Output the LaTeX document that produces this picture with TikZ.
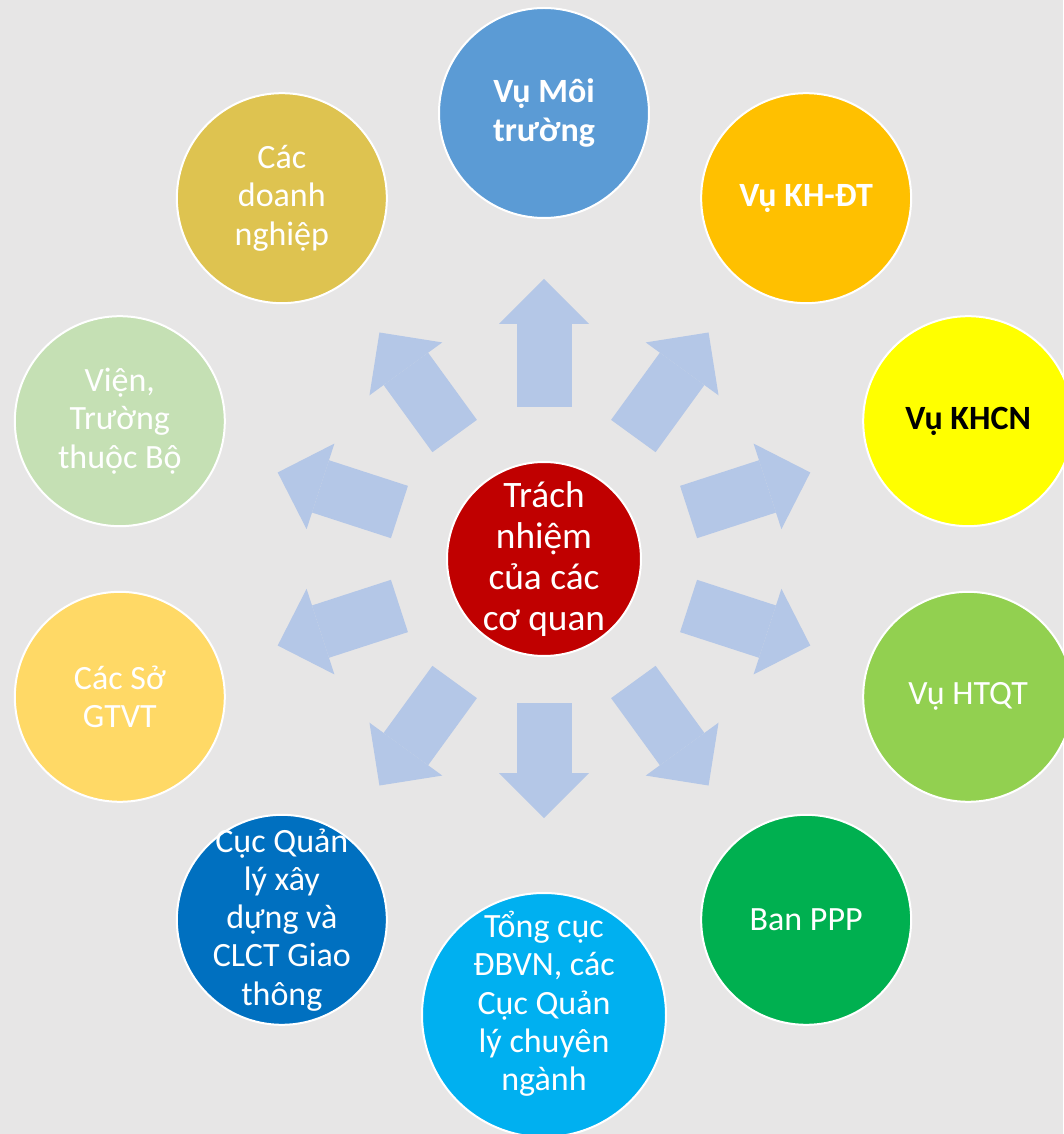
\documentclass[tikz,border=0pt]{standalone}
\usepackage{fontspec}
\setmainfont{Carlito}
\usetikzlibrary{arrows.meta, positioning}
\definecolor{backgray}{HTML}{E7E6E6}
\definecolor{spokeblue}{HTML}{B4C7E7}
\definecolor{hubred}{HTML}{C00000}
\definecolor{vublue}{HTML}{5B9BD5}
\definecolor{vuorange}{HTML}{FFC000}
\definecolor{vuyellow}{HTML}{FFFF00}
\definecolor{vugreen}{HTML}{92D050}
\definecolor{bangreen}{HTML}{00B050}
\definecolor{tcblue}{HTML}{00B0F0}
\definecolor{cucblue}{HTML}{0070C0}
\definecolor{sogold}{HTML}{FFD966}
\definecolor{vienmint}{HTML}{C5E0B4}
\definecolor{dnmustard}{HTML}{DEC350}
\tikzset{x=0.75pt, y=0.75pt,
	every node/.style={align=center, inner sep=0pt},
	unit/.style={circle, draw=white, line width=1.5pt, minimum size=157.5pt,
		inner sep=-20pt, outer sep=0.75pt,
		text=white, font=\fontsize{25.5pt}{28.7pt}\selectfont},
	boldunit/.style={unit, font=\fontsize{25.5pt}{28.7pt}\selectfont\bfseries},
	hub/.style={unit, minimum size=145.5pt, fill=hubred,
		font=\fontsize{28pt}{30.75pt}\selectfont},
	spoke/.style={draw=spokeblue, line width=41.25pt,
		-{Triangle[width=67.5pt, length=33.75pt, line width=0pt]},
		shorten <=40.5pt, shorten >=45pt}}

\begin{document}
\begin{tikzpicture}
    \useasboundingbox (-544,-575) rectangle (519,559);
    \fill[backgray] (-544,-575) rectangle (519,559);

    \node[hub] (hub) at (0,0) {Trách\\nhiệm\\của các\\cơ quan};

    \node[boldunit, fill=vublue] (moitruong) at (90:446) {Vụ Môi\\trường};
    \node[boldunit, fill=vuorange] (khdt) at (54:446) {Vụ KH-ĐT};
    \node[boldunit, fill=vuyellow, text=black] (khcn) at (18:446) {Vụ KHCN};
    \node[unit, fill=vugreen] (htqt) at (-18:446) {Vụ HTQT};
    \node[unit, fill=bangreen] (ppp) at (-54:446) {Ban PPP};
    \node[unit, fill=tcblue, minimum size=183pt, text depth=21pt] (tongcuc) at (-90:456) {Tổng cục\\ĐBVN, các\\Cục Quản\\lý chuyên\\ngành};
    \node[unit, fill=cucblue] (cucql) at (-126:446) {Cục Quản\\lý xây\\dựng và\\CLCT Giao\\thông};
    \node[unit, fill=sogold] (sogtvt) at (-162:446) {Các Sở\\GTVT};
    \node[unit, fill=vienmint] (vien) at (162:446) {Viện,\\Trường\\thuộc Bộ};
    \node[unit, fill=dnmustard] (doanhnghiep) at (126:446) {Các\\doanh\\nghiệp};

    \draw[spoke] (hub) -- (moitruong);
    \draw[spoke] (hub) -- (khdt);
    \draw[spoke] (hub) -- (khcn);
    \draw[spoke] (hub) -- (htqt);
    \draw[spoke] (hub) -- (ppp);
    \draw[spoke, shorten <=34.5pt, shorten >=55.5pt] (hub) -- (tongcuc);
    \draw[spoke] (hub) -- (cucql);
    \draw[spoke] (hub) -- (sogtvt);
    \draw[spoke] (hub) -- (vien);
    \draw[spoke] (hub) -- (doanhnghiep);
\end{tikzpicture}
\end{document}
